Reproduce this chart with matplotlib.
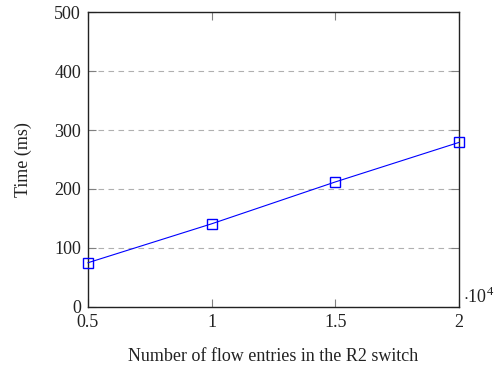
import matplotlib.pyplot as plt
from matplotlib.ticker import FuncFormatter

plt.rcParams['font.family'] = ['Liberation Serif', 'DejaVu Serif']
plt.rcParams['mathtext.fontset'] = 'custom'
plt.rcParams['mathtext.rm'] = 'Liberation Serif'

# 資料
flow_entries = [5000, 10000, 15000, 20000]
time_ms = [75, 141, 212, 279]
x_ticks = [5000, 10000, 15000, 20000]
y_ticks = [0, 100, 200, 300, 400, 500]

fig = plt.figure(figsize=(4.98, 3.65), dpi=100)
ax = fig.add_axes([0.1767, 0.159, 0.745, 0.808])

ax.plot(flow_entries, time_ms, color='#0000ff', linewidth=0.8,
        marker='s', markersize=7, markerfacecolor='none',
        markeredgecolor='#0000ff', markeredgewidth=1.0, clip_on=False, zorder=3)

ax.set_xlim(5000, 20000)
ax.set_ylim(0, 500)
ax.set_xticks(x_ticks)
ax.set_yticks(y_ticks)
ax.xaxis.set_major_formatter(FuncFormatter(lambda v, p: f'{v / 1e4:g}'))

ax.grid(axis='y', linestyle=(0, (5, 4)), color='#b0b0b0', linewidth=0.8)
ax.set_axisbelow(True)

ax.tick_params(direction='in', top=True, right=True, length=6, width=0.8,
               color='#808080', labelsize=13, labelcolor='#222222')
ax.tick_params(axis='x', pad=5)
ax.tick_params(axis='y', pad=5)
for s in ax.spines.values():
    s.set_linewidth(1.0)
    s.set_color('#222222')

ax.set_xlabel('Number of flow entries in the R2 switch', fontsize=13,
              color='#222222', labelpad=12)
ax.set_ylabel('Time (ms)', fontsize=13, color='#222222', labelpad=16)

ax.text(1.01, 0.0, r'$\cdot 10^4$', transform=ax.transAxes, fontsize=13,
        color='#222222', ha='left', va='bottom')

fig.savefig('out.png', dpi=100)
